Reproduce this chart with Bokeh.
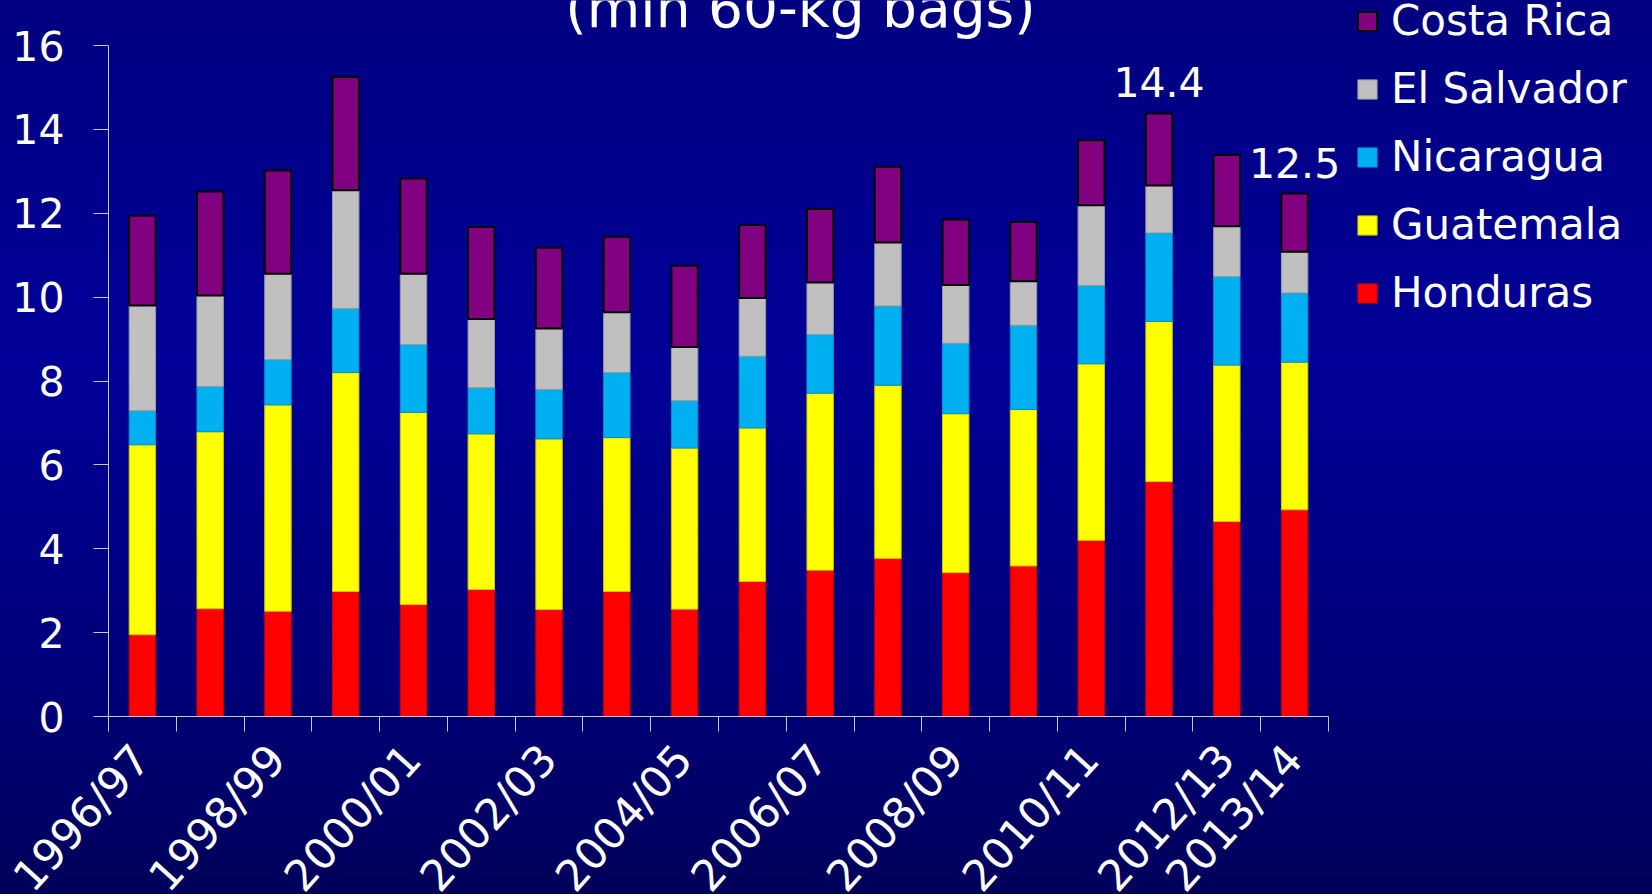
from math import radians
from bokeh.plotting import figure
from bokeh.models import (ColumnDataSource, Range1d, FixedTicker, Legend, LegendItem,
                          Label, LabelSet)
from bokeh.embed import file_html
from bokeh.resources import INLINE
from bokeh.core.properties import value

# ---------------- data ----------------
seasons = ["1996/97", "1997/98", "1998/99", "1999/00", "2000/01", "2001/02",
           "2002/03", "2003/04", "2004/05", "2005/06", "2006/07", "2007/08",
           "2008/09", "2009/10", "2010/11", "2011/12", "2012/13", "2013/14"]
shown_labels = ["1996/97", "1998/99", "2000/01", "2002/03", "2004/05",
                "2006/07", "2008/09", "2010/11", "2012/13", "2013/14"]

honduras = [1.95, 2.57, 2.51, 2.98, 2.67, 3.03, 2.55, 2.98, 2.56,
            3.22, 3.49, 3.77, 3.43, 3.59, 4.20, 5.60, 4.65, 4.93]
guatemala = [4.53, 4.22, 4.92, 5.22, 4.58, 3.71, 4.07, 3.67, 3.84,
             3.66, 4.22, 4.13, 3.79, 3.73, 4.21, 3.82, 3.73, 3.52]
nicaragua = [0.81, 1.08, 1.08, 1.53, 1.62, 1.10, 1.18, 1.55, 1.13,
             1.71, 1.40, 1.89, 1.68, 2.01, 1.87, 2.11, 2.11, 1.65]
el_salvador = [2.51, 2.17, 2.05, 2.82, 1.69, 1.64, 1.45, 1.44, 1.28,
               1.39, 1.24, 1.51, 1.39, 1.05, 1.91, 1.13, 1.20, 0.98]
costa_rica = [2.14, 2.48, 2.46, 2.70, 2.27, 2.19, 1.93, 1.80, 1.94,
              1.74, 1.75, 1.81, 1.56, 1.41, 1.55, 1.72, 1.70, 1.39]

countries = ["Honduras", "Guatemala", "Nicaragua", "El Salvador", "Costa Rica"]
colors = ["#FF0000", "#FFFF00", "#00B0F0", "#C0C0C0", "#800080"]
edge_colors = ["#c80000", "#c8c800", "#0090c8", "#9a9a9a", "#000000"]
edge_widths = [1, 1, 1, 1, 2]

annotated = ["2011/12", "2013/14"]
title_text = "(mln 60-kg bags)"
y_ticks = [0, 2, 4, 6, 8, 10, 12, 14, 16]
y_max = 16

FONT = "DejaVu Sans"

# ---------------- layout (pixels) ----------------
# The plotting frame covers the whole canvas; axes are pinned at x = 0 / y = 0.
W, H = 1652, 894
left_px = 108          # pixel column of the y axis
plot_w = 1220          # width spanned by the 18 seasons
top_px = 45            # pixel row of y = 16
zero_px = 716          # pixel row of y = 0

n = len(seasons)
px_per_x = plot_w / n
px_per_y = (zero_px - top_px) / y_max
x_start = -left_px / px_per_x
x_end = (W - left_px) / px_per_x
y_end = zero_px / px_per_y
y_start = -(H - zero_px) / px_per_y

x_pos = [i + 0.5 for i in range(n)]
data = dict(x=x_pos, season=seasons)
for key, vals in zip(countries, [honduras, guatemala, nicaragua, el_salvador, costa_rica]):
    data[key] = vals
src = ColumnDataSource(data)

p = figure(width=W, height=H,
           x_range=Range1d(x_start, x_end), y_range=Range1d(y_start, y_end),
           output_backend="svg", toolbar_location=None,
           min_border_left=0, min_border_right=0,
           min_border_top=0, min_border_bottom=0)
p.styles = {"background": "linear-gradient(to bottom, #000080 0%, #000098 40%, #00007a 75%, #00005a 100%)"}
p.border_fill_color = None
p.background_fill_color = None
p.outline_line_color = None
p.grid.visible = False

renderers = p.vbar_stack(countries, x="x", width=0.39, source=src,
                         fill_color=colors, line_color=edge_colors,
                         line_width=edge_widths)

# y axis, pinned at x = 0
yax = p.yaxis[0]
yax.fixed_location = 0
yax.bounds = (0, y_max)
yax.ticker = FixedTicker(ticks=y_ticks)
yax.major_tick_out = 15
yax.major_tick_in = 0
yax.minor_tick_out = 0
yax.minor_tick_in = 0
yax.major_label_standoff = 29
yax.axis_line_color = "#c8c8c8"
yax.major_tick_line_color = "#c8c8c8"
yax.major_label_text_color = "white"
yax.major_label_text_font = FONT
yax.major_label_text_font_size = "41px"

# x axis, pinned at y = 0: ticks at category boundaries
xax = p.xaxis[0]
xax.fixed_location = 0
xax.bounds = (0, n)
xax.ticker = FixedTicker(ticks=[], minor_ticks=list(range(n + 1)))
xax.major_tick_out = 0
xax.major_tick_in = 0
xax.minor_tick_out = 15
xax.minor_tick_in = 0
xax.minor_tick_line_color = "#c8c8c8"
xax.axis_line_color = "#c8c8c8"
xax.major_label_text_font_size = "0px"

# season labels under the bar centres
for s in shown_labels:
    p.add_layout(Label(x=seasons.index(s) + 0.5, y=0, text=s,
                       angle=radians(48), x_offset=-1, y_offset=-35,
                       text_align="right", text_baseline="middle",
                       text_color="white", text_font=FONT,
                       text_font_size="43px"))

# total labels
totals = [h + g + ni + e + c for h, g, ni, e, c in
          zip(honduras, guatemala, nicaragua, el_salvador, costa_rica)]
ann_idx = [seasons.index(s) for s in annotated]
ann_src = ColumnDataSource(dict(
    x=[x_pos[i] for i in ann_idx],
    y=[totals[i] for i in ann_idx],
    t=[f"{totals[i]:.1f}" for i in ann_idx]))
p.add_layout(LabelSet(x="x", y="y", text="t", source=ann_src, text_align="center",
                      text_baseline="alphabetic", y_offset=16, text_color="white",
                      text_font=value(FONT), text_font_size="41px"))

# title (partly cut off at the top, as in the original)
p.add_layout(Label(x=n / 2, y=y_max, x_offset=82, y_offset=38, text=title_text,
                   text_align="center", text_baseline="alphabetic",
                   text_color="white", text_font=FONT, text_font_size="55px"))

# legend (bottom-left corner given in frame pixels)
items = [LegendItem(label=c, renderers=[r]) for c, r in zip(countries, renderers)][::-1]
legend = Legend(items=items, location=(1355, 577), orientation="vertical",
                glyph_width=24, glyph_height=24, label_standoff=12,
                spacing=19, padding=0, margin=0,
                background_fill_alpha=0, border_line_color=None,
                label_text_color="white", label_text_font=FONT,
                label_text_font_size="42px")
p.add_layout(legend, "center")

open("out.html", "w").write(file_html(p, INLINE))
